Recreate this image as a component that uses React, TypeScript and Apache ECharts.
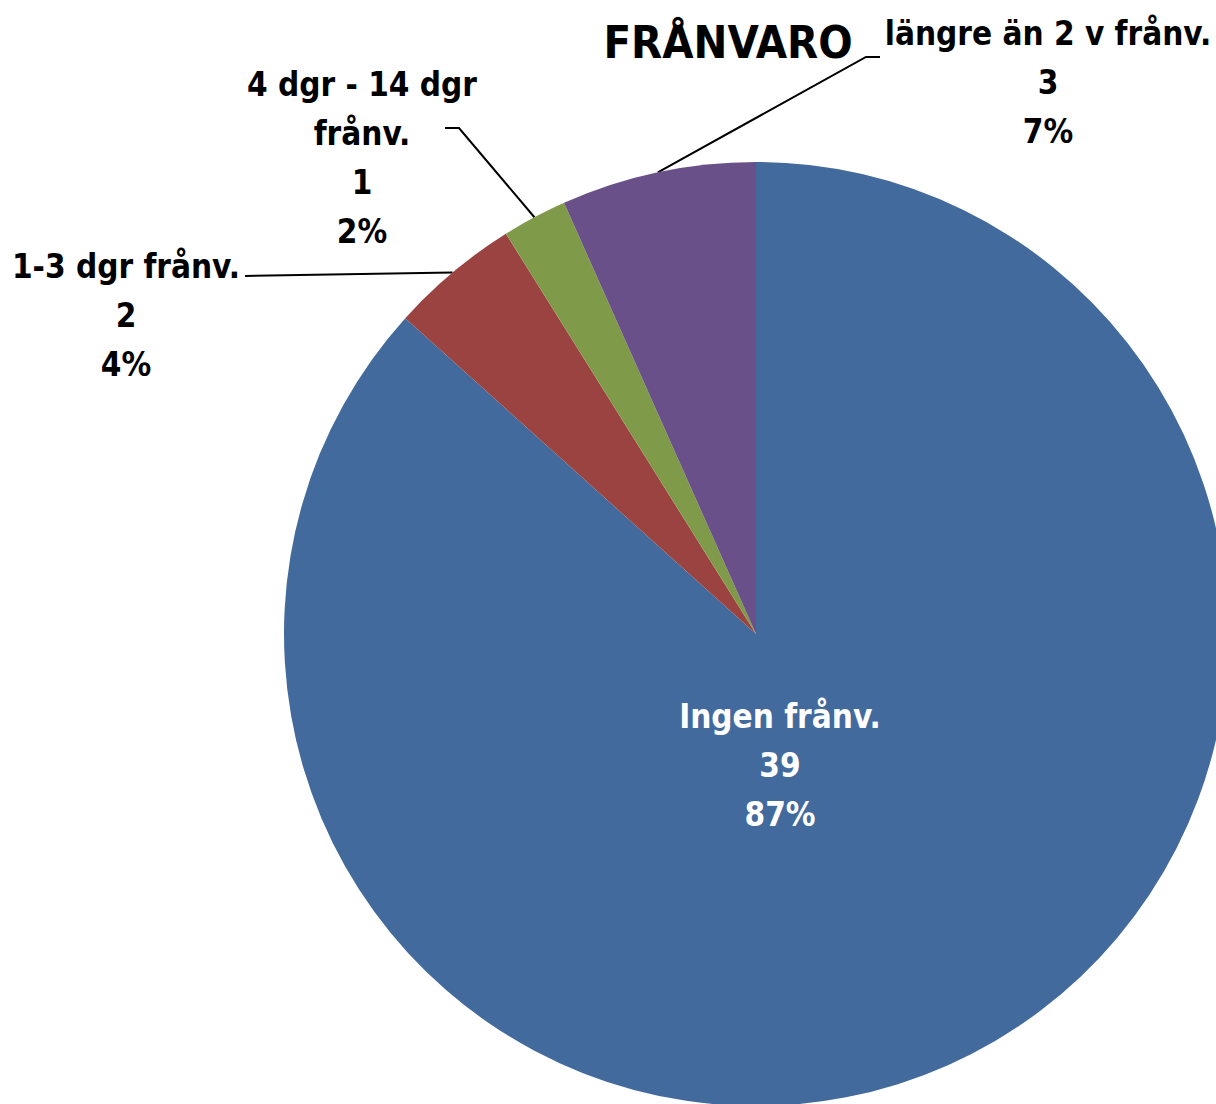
import React, { useEffect, useRef } from "react";
import * as echarts from "echarts";

const categories = [
  "Ingen frånv.",
  "1-3 dgr frånv.",
  "4 dgr - 14 dgr\nfrånv.",
  "längre än 2 v frånv.",
];
const values = [39, 2, 1, 3];
const colors = ["#426a9d", "#9b4340", "#7f9a49", "#6a5088"];
const titleText = "FRÅNVARO";

const FONT = "'DejaVu Sans Condensed', 'Open Sans', sans-serif";

export default function App() {
  const ref = useRef<HTMLDivElement>(null);
  useEffect(() => {
    document.body.style.margin = "0";
    const chart = echarts.init(ref.current!, null, { renderer: "svg" });
    // label anchor positions (center of text block) and leader-line end points
    const labelPos = [
      { x: 780, y: 765, end: null },
      { x: 126, y: 315, end: [[245, 276]] },
      { x: 362, y: 158, end: [[459, 128], [445, 128]] },
      { x: 1048, y: 82, end: [[866, 57], [880, 57]] },
    ];
    chart.setOption({
      animation: false,
      graphic: [
        {
          type: "text",
          x: 728,
          y: 42,
          style: {
            text: titleText,
            fontSize: 45,
            fontWeight: "bold",
            fontFamily: FONT,
            fill: "#000",
            align: "center",
            verticalAlign: "middle",
          },
        },
      ],
      series: [
        {
          type: "pie",
          center: [756, 634],
          radius: 472,
          startAngle: 90,
          clockwise: true,
          percentPrecision: 0,
          avoidLabelOverlap: false,
          itemStyle: { borderWidth: 0 },
          label: {
            show: true,
            position: "outside",
            formatter: "{b}\n{c}\n{d}%",
            fontSize: 33,
            lineHeight: 49,
            fontWeight: "bold",
            fontFamily: FONT,
            color: "#000",
            align: "center",
          },
          labelLine: {
            show: true,
            lineStyle: { color: "#000", width: 2 },
          },
          labelLayout: (params: any) => {
            const p = labelPos[params.dataIndex];
            const res: any = {
              x: p.x,
              y: p.y,
              align: "center",
              verticalAlign: "middle",
            };
            if (p.end && params.labelLinePoints) {
              res.labelLinePoints = [params.labelLinePoints[0], ...p.end];
            }
            return res;
          },
          data: categories.map((name, i) => ({
            name,
            value: values[i],
            itemStyle: { color: colors[i] },
            ...(i === 0
              ? {
                  label: { position: "inside", color: "#fff" },
                  labelLine: { show: false },
                }
              : {}),
          })),
        },
      ],
    });
    return () => chart.dispose();
  }, []);
  return <div ref={ref} style={{ width: 1216, height: 1104 }} />;
}
